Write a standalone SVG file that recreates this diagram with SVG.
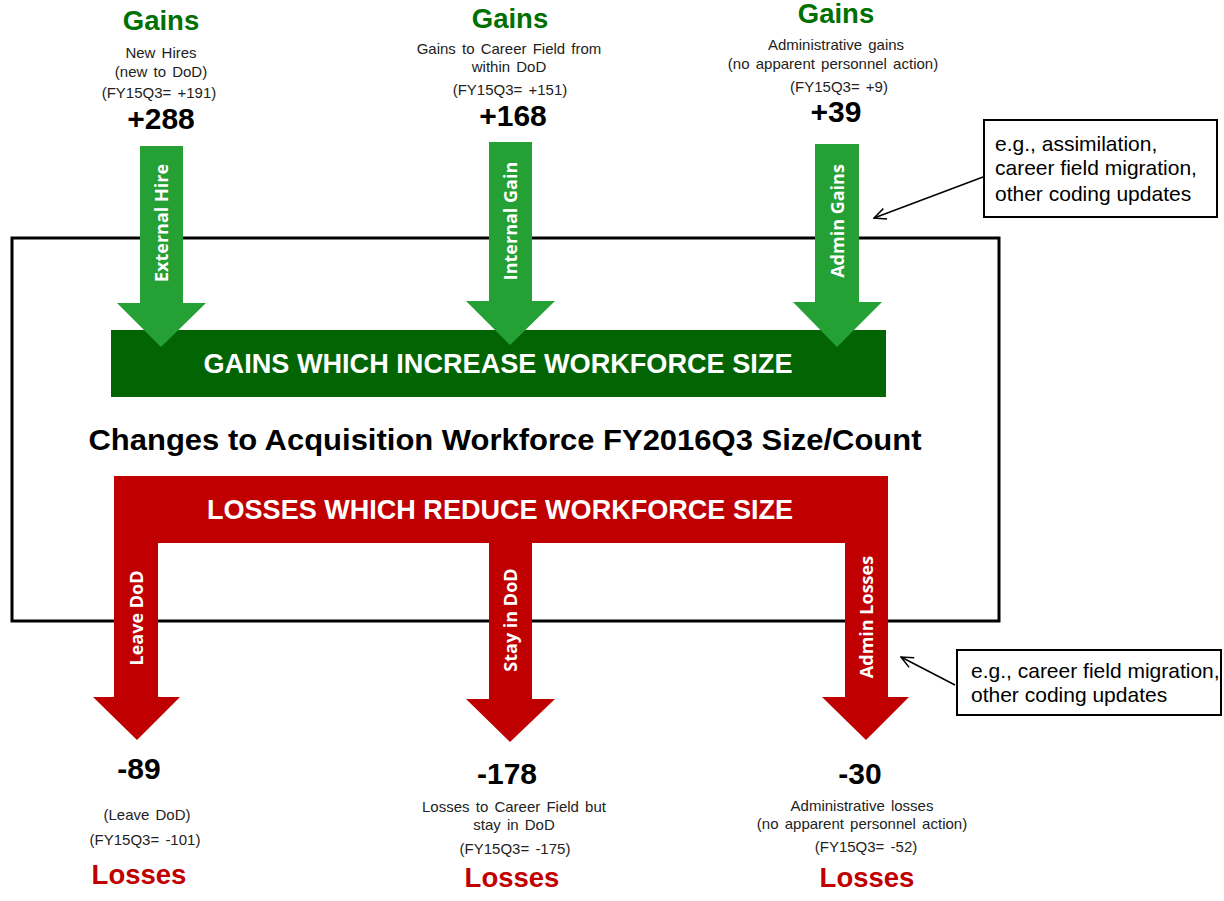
<svg xmlns="http://www.w3.org/2000/svg" width="1224" height="901" viewBox="0 0 1224 901">
<defs>
<marker id="open" markerWidth="14" markerHeight="12" refX="13" refY="6" orient="auto" markerUnits="userSpaceOnUse">
<path d="M1,0.5 L13,6 L1,11.5" fill="none" stroke="#000" stroke-width="1.5"/>
</marker>
<style>
text{font-family:"Liberation Sans",Arial,sans-serif;text-anchor:middle}
.gh{fill:#007000;font-weight:bold;font-size:27.5px}
.lh{fill:#c00000;font-weight:bold;font-size:27.5px}
.sm{fill:#222;font-size:15px;word-spacing:2px}
.num{fill:#000;font-weight:bold;font-size:30px}
.bar{fill:#fff;font-weight:bold;font-size:28px}
.al{fill:#fff;font-weight:bold;font-size:18px;font-family:"Open Sans","Liberation Sans",sans-serif}
.ga{fill:#25a035}
.ra{fill:#c00000}
.co{fill:#000;font-size:21px;text-anchor:start}
</style>
</defs>
<rect width="1224" height="901" fill="#fff"/>

<g id="frame">
<rect x="12" y="238" width="987" height="383" fill="none" stroke="#000" stroke-width="3"/>
<text x="505" y="450" textLength="833" lengthAdjust="spacingAndGlyphs" style="font-size:30px;font-weight:bold;fill:#000">Changes to Acquisition Workforce FY2016Q3 Size/Count</text>
</g>

<g id="gains-bar">
<rect x="111" y="330" width="775" height="67" fill="#036403"/>
<text class="bar" x="498" y="373" textLength="589" lengthAdjust="spacingAndGlyphs">GAINS WHICH INCREASE WORKFORCE SIZE</text>
</g>

<g id="losses-bar">
<rect x="114" y="476" width="774" height="67" fill="#c00000"/>
<text class="bar" x="500" y="519" textLength="586" lengthAdjust="spacingAndGlyphs">LOSSES WHICH REDUCE WORKFORCE SIZE</text>
</g>

<g id="connectors">
<g id="arrow-external-hire">
<polygon class="ga" points="140,146 183,146 183,303 206,303 161,347 117,303 140,303"/>
<text class="al" transform="translate(168,223) rotate(-90)">External Hire</text>
</g>
<g id="arrow-internal-gain">
<polygon class="ga" points="489,142 532,142 532,301 555,301 510,345 466,301 489,301"/>
<text class="al" transform="translate(517,221) rotate(-90)">Internal Gain</text>
</g>
<g id="arrow-admin-gains">
<polygon class="ga" points="815,144 859,144 859,302 882,302 837,347 793,302 815,302"/>
<text class="al" transform="translate(844,221) rotate(-90)">Admin Gains</text>
</g>
<g id="arrow-leave-dod">
<polygon class="ra" points="114,543 158,543 158,697 180,697 137,740 93,697 114,697"/>
<text class="al" transform="translate(143,618) rotate(-90)">Leave DoD</text>
</g>
<g id="arrow-stay-dod">
<polygon class="ra" points="489,543 532,543 532,699 555,699 510,742 466,699 489,699"/>
<text class="al" transform="translate(517,620) rotate(-90)">Stay in DoD</text>
</g>
<g id="arrow-admin-losses">
<polygon class="ra" points="845,543 888,543 888,697 909,697 866,740 822,697 845,697"/>
<text class="al" transform="translate(873,617) rotate(-90)">Admin Losses</text>
</g>
<line x1="983" y1="177" x2="874" y2="218" stroke="#000" stroke-width="1.5" marker-end="url(#open)"/>
<line x1="955" y1="685" x2="901" y2="657" stroke="#000" stroke-width="1.5" marker-end="url(#open)"/>
</g>

<g id="gain-external">
<text class="gh" x="161" y="30">Gains</text>
<text class="sm" x="161" y="58">New Hires</text>
<text class="sm" x="161" y="77">(new to DoD)</text>
<text class="sm" x="159" y="98">(FY15Q3= +191)</text>
<text class="num" x="161" y="129">+288</text>
</g>
<g id="gain-internal">
<text class="gh" x="510" y="28">Gains</text>
<text class="sm" x="509" y="54">Gains to Career Field from</text>
<text class="sm" x="509" y="72">within DoD</text>
<text class="sm" x="510" y="95">(FY15Q3= +151)</text>
<text class="num" x="513" y="126">+168</text>
</g>
<g id="gain-admin">
<text class="gh" x="836" y="23">Gains</text>
<text class="sm" x="836" y="50">Administrative gains</text>
<text class="sm" x="833" y="69">(no apparent personnel action)</text>
<text class="sm" x="839" y="92">(FY15Q3= +9)</text>
<text class="num" x="836" y="122">+39</text>
</g>

<g id="loss-leave">
<text class="num" x="139" y="779">-89</text>
<text class="sm" x="147" y="820">(Leave DoD)</text>
<text class="sm" x="145" y="845">(FY15Q3= -101)</text>
<text class="lh" x="139" y="884">Losses</text>
</g>
<g id="loss-stay">
<text class="num" x="507" y="784">-178</text>
<text class="sm" x="514" y="812">Losses to Career Field but</text>
<text class="sm" x="514" y="830">stay in DoD</text>
<text class="sm" x="515" y="854">(FY15Q3= -175)</text>
<text class="lh" x="512" y="887">Losses</text>
</g>
<g id="loss-admin">
<text class="num" x="860" y="784">-30</text>
<text class="sm" x="862" y="811">Administrative losses</text>
<text class="sm" x="862" y="829">(no apparent personnel action)</text>
<text class="sm" x="866" y="852">(FY15Q3= -52)</text>
<text class="lh" x="867" y="887">Losses</text>
</g>

<g id="callout-gains">
<rect x="984" y="120" width="233" height="97" fill="#fff" stroke="#000" stroke-width="2"/>
<text class="co" x="995" y="151">e.g., assimilation,</text>
<text class="co" x="995" y="175">career field migration,</text>
<text class="co" x="995" y="201">other coding updates</text>
</g>
<g id="callout-losses">
<rect x="957" y="650" width="264" height="65" fill="#fff" stroke="#000" stroke-width="2"/>
<text class="co" x="971" y="678">e.g., career field migration,</text>
<text class="co" x="971" y="702">other coding updates</text>
</g>
</svg>
